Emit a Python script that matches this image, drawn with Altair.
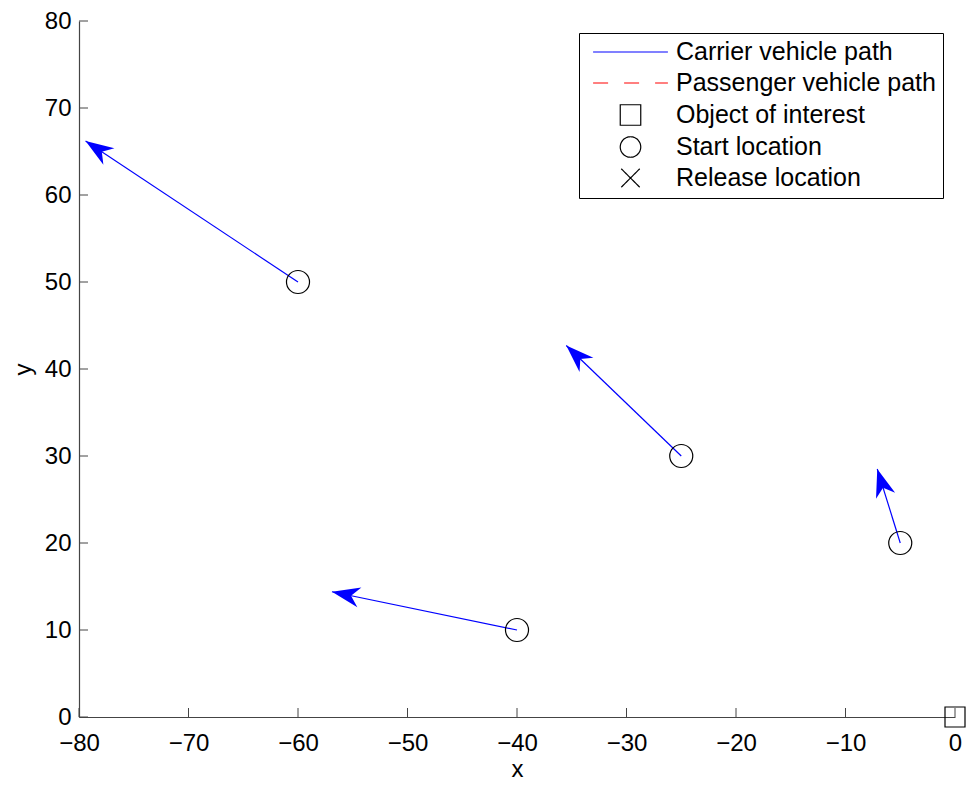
import altair as alt
import pandas as pd

# ---- data ----
start_x = [-60, -25, -40, -5]
start_y = [50, 30, 10, 20]
tip_x = [-79.4, -35.5, -56.9, -7.1]
tip_y = [66.2, 42.7, 14.4, 28.5]

object_x = [0]
object_y = [0]

x_ticks = [-80, -70, -60, -50, -40, -30, -20, -10, 0]
y_ticks = [0, 10, 20, 30, 40, 50, 60, 70, 80]

legend_labels = ["Carrier vehicle path", "Passenger vehicle path",
                 "Object of interest", "Start location", "Release location"]

# ---- layout ----
W, H = 876, 696
KX, KY = W / 80.0, H / 80.0
FONT = "Liberation Sans"

arrows = pd.DataFrame({"x1": start_x, "y1": start_y, "x2": tip_x, "y2": tip_y})
obj = pd.DataFrame({"x": object_x, "y": object_y})
xt = pd.DataFrame({"v": x_ticks})
yt = pd.DataFrame({"v": y_ticks})
leg = pd.DataFrame({"label": legend_labels})

xs = alt.Scale(domain=[-80, 0], nice=False, zero=False)
ys = alt.Scale(domain=[0, 80], nice=False, zero=False)

xaxis = alt.Axis(values=x_ticks, ticks=False, grid=False, labelFontSize=24,
                 labelFont=FONT, labelColor="black", labelPadding=14,
                 title="x", titleFont=FONT, titleFontSize=24,
                 titleFontWeight="normal", titleColor="black", titlePadding=2,
                 domainColor="#444", domainWidth=1.2, labelFlush=False)
yaxis = alt.Axis(values=y_ticks, ticks=False, grid=False, labelFontSize=24,
                 labelFont=FONT, labelColor="black", labelPadding=8,
                 title="y", titleFont=FONT, titleFontSize=24,
                 titleFontWeight="normal", titleColor="black", titlePadding=9,
                 domainColor="#444", domainWidth=1.2, labelFlush=False)

base_axes = alt.Chart(arrows).mark_point(opacity=0).encode(
    x=alt.X("x1:Q", scale=xs, axis=xaxis),
    y=alt.Y("y1:Q", scale=ys, axis=yaxis),
)

xtick_layer = alt.Chart(xt).mark_rule(color="#444", strokeWidth=1).encode(
    x=alt.X("v:Q", scale=xs), y=alt.value(H), y2=alt.value(H - 9))
ytick_layer = alt.Chart(yt).mark_rule(color="#444", strokeWidth=1).encode(
    y=alt.Y("v:Q", scale=ys), x=alt.value(0), x2=alt.value(9))

shafts = alt.Chart(arrows).mark_rule(color="#0000ff", strokeWidth=1.2).encode(
    x=alt.X("x1:Q", scale=xs), y=alt.Y("y1:Q", scale=ys),
    x2="x2:Q", y2="y2:Q")

head_path = "M0,0L1,2.8L0,1.95L-1,2.8Z"
heads = alt.Chart(arrows).transform_calculate(
    ang=f"(atan2((datum.x2-datum.x1)*{KX}, (datum.y2-datum.y1)*{KY})*180/PI+360)%360"
).mark_point(shape=head_path, filled=True, color="#0000ff", opacity=1,
             size=400, strokeWidth=0).encode(
    x=alt.X("x2:Q", scale=xs), y=alt.Y("y2:Q", scale=ys),
    angle=alt.Angle("ang:Q", scale=None))

starts = alt.Chart(arrows).mark_point(shape="circle", filled=False, color="black",
                                      opacity=1, size=531, strokeWidth=1.2).encode(
    x=alt.X("x1:Q", scale=xs), y=alt.Y("y1:Q", scale=ys))

objects = alt.Chart(obj).mark_point(shape="square", filled=False, color="black",
                                    opacity=1, size=400, strokeWidth=1.2,
                                    clip=False).encode(
    x=alt.X("x:Q", scale=xs), y=alt.Y("y:Q", scale=ys))

line_path = "M-3.65,0L3.65,0"
cross_path = "M-0.9,-0.9L0.9,0.9M0.9,-0.9L-0.9,0.9"

legend = alt.Legend(orient="none", legendX=500, legendY=12, title=None,
                    strokeColor="black", fillColor="white", padding=6.5,
                    cornerRadius=0, symbolStrokeWidth=1.2,
                    symbolOffset=32.5, labelOffset=33, labelFont=FONT,
                    labelFontSize=25, labelColor="black", rowPadding=5,
                    labelLimit=400)

legend_layer = alt.Chart(leg).transform_filter("false").mark_point(
    filled=False, opacity=1).encode(
    shape=alt.Shape("label:N", scale=alt.Scale(domain=legend_labels,
                    range=[line_path, line_path, "square", "circle", cross_path]),
                    legend=legend),
    color=alt.Color("label:N", scale=alt.Scale(domain=legend_labels,
                    range=["#0000ff", "#ff0000", "black", "black", "black"]),
                    legend=legend),
    strokeDash=alt.StrokeDash("label:N", scale=alt.Scale(domain=legend_labels,
                    range=[[1, 0], [15, 16], [1, 0], [1, 0], [1, 0]]),
                    legend=legend),
    size=alt.Size("label:N", scale=alt.Scale(domain=legend_labels,
                    range=[420, 420, 420, 531, 420]),
                    legend=legend),
)

chart = alt.layer(base_axes, xtick_layer, ytick_layer, shafts, heads, starts,
                  objects, legend_layer).properties(
    width=W, height=H, autosize="none",
    padding={"left": 71, "top": 13, "right": 11, "bottom": 68},
    background="white",
).configure_view(stroke=None)

chart.save("out.html", embed_options={"renderer": "svg", "actions": False})
